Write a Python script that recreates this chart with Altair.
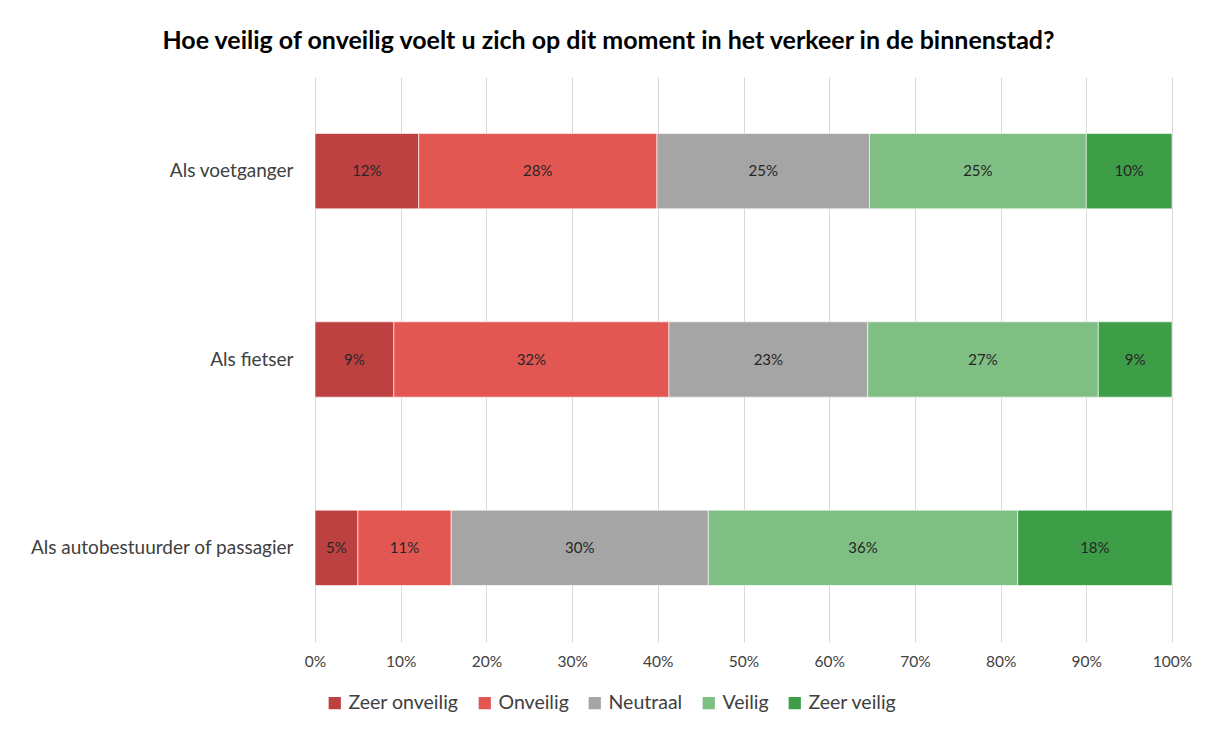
import altair as alt
import pandas as pd

categories = ["Als voetganger", "Als fietser", "Als autobestuurder of passagier"]
segments = ["Zeer onveilig", "Onveilig", "Neutraal", "Veilig", "Zeer veilig"]
colors = ["#BE4142", "#E35753", "#A5A5A5", "#7FBF83", "#3D9E47"]

voetganger = [0.121, 0.278, 0.248, 0.253, 0.100]
fietser = [0.092, 0.321, 0.232, 0.269, 0.086]
auto = [0.050, 0.109, 0.300, 0.361, 0.180]

series = [voetganger, fietser, auto]
rows = []
for cat, vals in zip(categories, series):
    for i, (seg, v) in enumerate(zip(segments, vals)):
        rows.append({"categorie": cat, "oordeel": seg, "waarde": v, "volgorde": i})
df = pd.DataFrame(rows)

FONT = "Lato"

base = alt.Chart(df).transform_stack(
    stack="waarde",
    groupby=["categorie"],
    as_=["start", "eind"],
    sort=[alt.SortField("volgorde", order="ascending")],
).transform_calculate(mid="(datum.start + datum.eind) / 2")

y_enc = alt.Y(
    "categorie:N",
    sort=categories,
    title=None,
    scale=alt.Scale(paddingInner=0.6, paddingOuter=0.3),
    axis=alt.Axis(ticks=False, domain=False, labelFontSize=19, labelColor="#404040",
                  labelPadding=22, labelFont=FONT, labelLimit=0),
)

bars = base.mark_bar(stroke="white", strokeWidth=0.6).encode(
    x=alt.X(
        "start:Q",
        scale=alt.Scale(domain=[0, 1], nice=False),
        title=None,
        axis=alt.Axis(format=".0%", values=[i / 10 for i in range(11)], ticks=False,
                      domain=False, grid=True, gridColor="#D9D9D9", labelFontSize=15.5,
                      labelColor="#404040", labelPadding=12, labelFont=FONT,
                      labelFlush=False),
    ),
    x2="eind:Q",
    y=y_enc,
    color=alt.Color(
        "oordeel:N",
        sort=segments,
        scale=alt.Scale(domain=segments, range=colors),
        legend=alt.Legend(
            title=None, orient="none", direction="horizontal", legendX=10, legendY=616,
            symbolType="square", symbolSize=150, symbolStrokeWidth=0,
            labelFontSize=19.5, labelColor="#404040", labelFont=FONT,
            columnPadding=16, labelOffset=4,
        ),
    ),
)

texts = base.mark_text(fontSize=15, color="#262626", font=FONT).encode(
    x=alt.X("mid:Q"),
    y=alt.Y("categorie:N", sort=categories),
    text=alt.Text("waarde:Q", format=".0%"),
)

chart = alt.layer(bars, texts).properties(
    width=857,
    height=565,
    autosize=alt.AutoSizeParams(type="none"),
    padding={"left": 307, "top": 69, "right": 30, "bottom": 80},
    title=alt.Title(
        "Hoe veilig of onveilig voelt u zich op dit moment in het verkeer in de binnenstad?",
        fontSize=25, fontWeight="bold", font=FONT, color="#000000",
        anchor="middle", dx=-135, offset=23,
    ),
).configure_view(stroke=None)

chart.save("out.html", embed_options={"renderer": "svg", "actions": False})
